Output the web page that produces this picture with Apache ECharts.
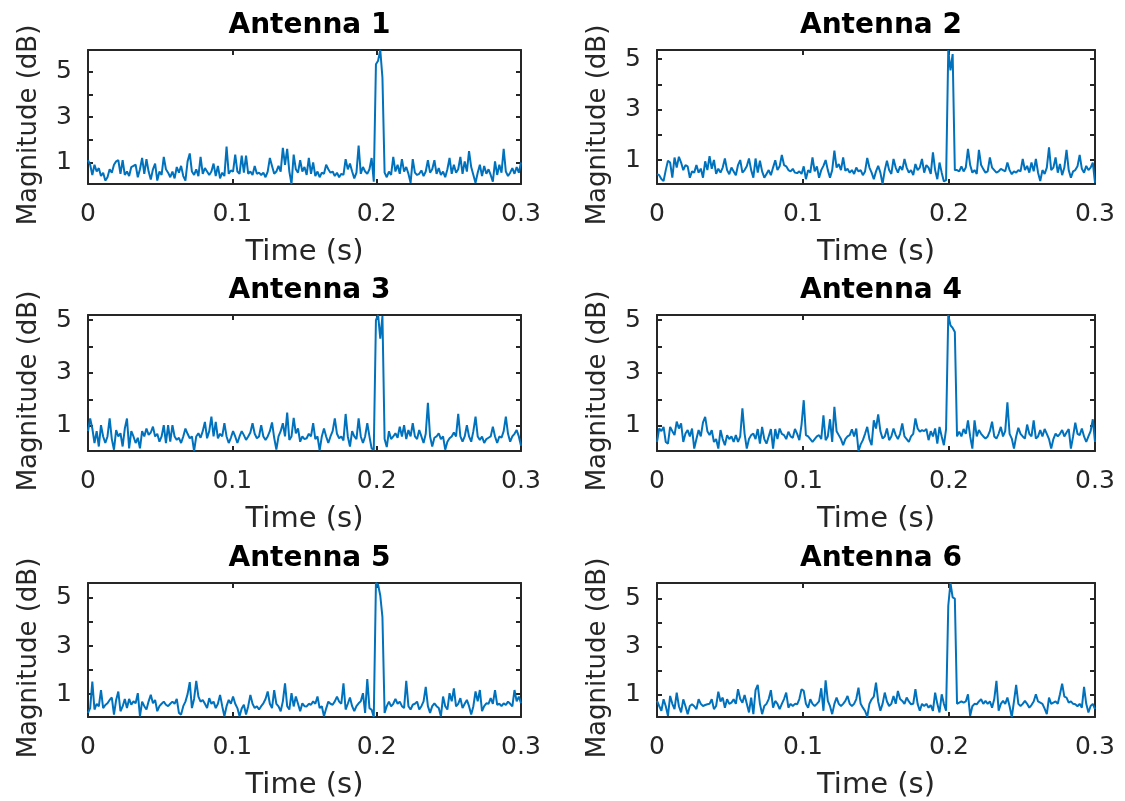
<!DOCTYPE html>
<html>
<head>
<meta charset="utf-8">
<script src="https://cdn.jsdelivr.net/npm/echarts@6/dist/echarts.min.js"></script>
<style>
html,body{margin:0;padding:0;background:#fff;}
#chart{width:1125px;height:801px;}
</style>
</head>
<body>
<div id="chart"></div>
<script>
// ---------- data ----------
const titles = ['Antenna 1', 'Antenna 2', 'Antenna 3', 'Antenna 4', 'Antenna 5', 'Antenna 6'];
const xTicks = [0, 0.1, 0.2, 0.3];
const yTicks = [1, 2, 3, 4, 5];
const yLabels = [1, 3, 5];
const sampleStep = 0.0015; // s between samples, 0 .. 0.3 s

const ant1 = [1.1,0.9,0.45,0.9,0.6,0.75,0.4,0.55,0.2,0.35,0.7,0.55,0.9,1.05,1.1,0.5,1.1,0.45,0.6,0.4,
0.8,0.85,0.9,0.35,0.7,1.2,0.5,1.15,0.6,0.25,0.7,0.95,0.2,0.6,0.45,1.25,0.7,0.55,0.35,0.6,
0.3,0.8,0.55,0.85,0.4,0.2,1.05,1.4,0.6,0.45,0.7,0.4,1.25,0.5,0.75,0.6,0.45,0.6,0.95,0.4,
0.85,0.3,0.55,0.4,1.7,0.5,0.65,0.6,1.35,0.6,0.5,1.3,0.55,1.3,0.5,0.6,0.45,0.85,0.5,0.55,
0.45,0.55,0.35,0.6,1.2,0.85,0.5,0.6,0.85,0.6,1.65,0.9,1.6,0.6,0.05,1.35,0.7,0.55,1.1,0.6,
0.8,0.45,1.2,0.5,1.0,0.4,0.6,0.35,0.55,0.5,0.9,0.7,0.55,0.6,0.4,0.55,0.35,0.5,0.45,1.15,
0.7,0.95,0.6,0.3,0.55,1.75,0.5,0.8,0.6,0.5,0.7,1.2,0.15,5.34,5.5,5.97,4.75,0.55,0.35,0.6,
0.45,1.25,0.6,0.9,0.5,1.15,0.6,0.8,0.5,0.1,1.15,0.55,0.45,0.5,0.65,0.4,0.6,1.1,0.55,0.7,
1.1,0.5,0.75,0.45,0.6,0.35,0.7,1.2,0.5,0.9,0.55,0.7,1.25,0.5,1.05,0.6,1.5,0.8,0.45,0.1,
0.55,0.9,0.4,0.85,0.5,0.7,0.45,0.15,1.05,0.45,0.9,0.55,1.6,0.6,0.4,0.55,0.75,0.5,0.8,0.55,1.0];

const ant2 = [0.44,0.4,0.25,0.17,0.6,0.97,0.9,0.3,1.1,0.7,1.13,0.9,0.6,0.8,0.75,0.3,0.55,0.5,0.8,0.5,
0.66,0.3,0.95,0.6,1.15,0.65,1.0,0.45,0.66,0.5,0.7,1.06,0.6,0.44,0.7,0.55,0.4,0.8,1.0,0.5,
0.6,0.75,1.06,0.6,0.3,1.06,0.5,0.97,0.55,0.3,0.45,0.6,0.4,0.7,0.99,0.6,0.75,1.2,0.8,0.75,
0.6,0.55,0.65,0.5,0.48,0.55,0.45,0.75,0.24,0.6,0.5,1.1,0.55,0.75,0.3,0.6,0.77,1.0,0.6,0.3,
0.6,1.37,0.7,0.84,0.6,1.1,0.57,0.65,0.5,0.6,0.45,0.7,0.55,0.6,0.4,0.55,1.08,0.7,0.5,0.24,
0.55,0.77,0.5,0.05,0.6,0.97,0.6,0.45,1.04,0.7,0.5,0.75,0.6,1.04,0.7,0.5,0.6,0.4,0.84,0.6,
0.7,1.04,0.5,0.8,0.7,0.45,1.3,0.6,0.24,0.9,0.5,0.15,0.2,5.36,4.55,5.2,0.6,0.6,0.55,0.75,
0.55,0.7,1.44,0.8,0.5,0.6,0.45,1.4,0.8,0.64,0.5,0.55,1.1,0.7,0.6,0.5,0.55,0.65,0.6,0.55,
0.9,0.6,0.44,0.55,0.5,0.6,0.55,1.04,0.6,0.77,0.5,0.9,0.55,1.04,0.5,0.17,0.6,0.45,0.7,1.5,
0.6,0.7,1.1,0.5,0.84,0.4,0.7,1.4,0.6,0.3,0.55,0.6,0.75,1.2,0.65,0.5,0.77,0.6,0.7,0.9,0.1];

const ant3 = [0.8,1.28,0.9,0.35,0.8,0.22,1.03,0.6,0.35,0.6,1.28,0.5,0.1,0.84,0.6,0.72,0.22,0.9,1.28,0.15,
0.8,0.6,0.35,0.55,0.15,0.8,0.6,0.9,0.66,0.75,0.97,0.6,0.7,0.4,0.6,1.03,0.35,1.03,0.4,1.03,
0.6,0.47,0.55,0.35,0.6,0.9,0.7,0.53,0.6,0.05,0.6,0.72,0.55,0.8,1.15,0.53,0.8,1.35,0.6,1.15,
0.53,0.7,0.6,1.1,0.6,0.35,0.55,0.8,0.6,0.35,0.6,0.8,0.65,0.47,0.6,0.75,1.1,0.7,0.53,0.6,
1.03,0.6,0.47,0.6,0.8,1.13,0.55,0.1,0.6,0.8,1.1,0.6,1.5,0.47,0.6,1.3,0.72,0.9,0.4,0.6,
0.5,0.53,0.7,0.6,1.1,0.5,0.6,0.07,0.6,0.9,0.6,0.35,0.6,0.8,1.28,0.7,0.53,0.6,0.45,1.45,
0.6,0.22,0.8,0.6,0.5,1.28,0.6,0.35,0.6,1.1,0.6,0.15,0.1,5.0,5.19,4.3,5.15,0.5,0.2,0.8,
0.5,0.6,0.72,0.55,0.97,0.6,1.03,0.5,0.84,0.6,1.1,0.6,0.5,0.84,0.6,0.35,0.7,1.87,0.6,0.22,
0.55,0.6,0.72,0.5,0.6,0.1,0.4,0.53,0.6,0.75,0.6,1.45,0.6,0.4,0.6,1.03,0.6,0.4,0.8,1.35,
0.6,0.47,0.6,0.35,0.5,0.55,0.6,0.97,0.6,0.35,0.6,0.55,0.8,1.35,0.7,0.4,0.6,0.7,0.84,0.6,0.25];

const ant4 = [0.39,0.9,0.8,0.96,0.39,0.33,0.96,0.8,0.65,1.16,0.9,1.09,0.39,0.71,0.84,0.6,0.9,0.14,0.5,0.84,
0.6,1.13,1.34,0.8,0.65,0.84,0.39,0.5,0.14,0.84,0.5,0.27,0.65,0.5,0.6,0.39,0.65,0.39,0.6,1.66,
0.7,0.14,0.5,0.65,0.71,0.5,0.88,0.33,0.96,0.5,0.33,0.6,0.88,0.14,0.88,0.5,0.9,0.7,0.65,0.5,
0.78,0.6,0.55,0.88,0.7,0.46,1.05,1.97,0.65,0.6,0.5,0.39,0.5,0.6,0.65,0.5,1.4,0.46,0.6,1.25,
0.39,1.72,0.8,0.65,0.5,0.27,0.5,0.6,0.65,0.87,0.6,0.9,0.05,0.3,0.46,0.7,0.96,0.5,0.27,1.21,
0.9,1.43,0.8,0.52,0.6,0.9,0.46,0.6,0.9,0.65,0.5,0.7,1.09,0.6,0.5,0.39,0.6,0.7,1.28,0.9,
0.78,0.84,0.8,0.88,0.46,0.8,0.6,0.9,0.33,0.96,0.6,0.27,0.88,5.19,4.8,4.7,4.55,0.6,0.78,0.6,
0.88,0.7,1.21,0.6,0.14,1.21,0.6,0.84,0.7,0.6,0.52,0.6,0.8,1.16,0.6,0.52,0.7,0.96,0.6,0.8,
1.89,0.7,0.52,0.14,0.6,0.93,0.7,0.6,0.52,1.05,0.7,0.6,1.21,0.52,0.6,0.84,0.6,0.88,0.7,0.5,
0.14,0.5,0.71,0.6,0.7,0.84,0.6,0.75,0.88,0.14,0.6,1.12,0.7,0.65,0.9,0.6,0.39,0.6,0.8,1.25,0.39];

const ant5 = [0.22,0.42,1.52,0.36,0.6,0.49,1.17,0.42,0.55,0.62,0.76,0.86,0.15,0.76,1.11,0.29,0.49,0.8,0.42,0.8,
0.56,0.7,0.62,1.04,0.08,0.69,0.5,0.36,0.7,0.97,0.62,0.76,0.29,0.5,0.6,0.69,0.56,0.5,0.6,0.69,
0.6,0.8,0.22,0.15,0.5,0.69,1.0,1.5,0.42,0.8,1.55,0.9,0.69,0.76,0.6,0.42,0.83,0.6,0.69,0.42,
0.6,0.97,0.5,0.08,0.5,0.76,0.6,0.9,0.6,0.42,0.08,0.4,0.56,0.15,0.5,0.97,0.6,0.42,0.5,0.36,
0.5,0.62,0.8,1.11,0.6,0.42,1.17,0.6,0.49,0.29,0.7,1.45,0.5,0.36,1.04,0.49,0.9,0.6,0.29,0.62,
0.5,0.49,0.6,0.56,0.7,0.6,0.9,0.42,0.5,0.08,0.4,0.69,0.6,0.56,0.7,0.9,0.69,0.6,1.45,0.36,
0.6,0.86,0.5,0.29,0.5,0.62,0.7,1.04,0.22,1.63,0.42,0.35,0.05,5.62,5.55,5.1,4.2,0.22,0.5,0.69,
0.49,0.6,0.8,0.6,0.69,0.5,0.42,1.55,0.5,0.36,0.56,0.6,0.69,0.36,0.5,0.7,1.3,0.5,0.22,0.5,
0.62,0.5,0.42,0.08,0.9,0.5,0.36,1.04,0.7,1.24,0.49,0.6,0.83,0.42,0.6,0.76,0.5,0.15,0.5,1.11,
0.7,1.17,0.29,0.5,0.62,0.6,0.83,0.6,1.17,0.56,0.6,0.5,0.62,0.55,0.69,0.6,0.49,1.17,0.7,0.9,0.62];

const ant6 = [0.72,0.51,0.31,0.79,0.5,0.1,0.93,0.6,0.38,1.07,0.5,0.24,0.79,0.5,0.17,0.51,0.58,0.5,0.38,0.79,
0.6,0.51,0.55,0.58,0.6,0.79,0.38,0.51,1.11,0.7,0.86,0.44,0.79,0.6,0.65,0.79,0.6,1.21,0.8,0.65,
0.97,0.6,0.24,0.86,0.17,1.17,1.39,0.6,0.17,0.51,0.6,0.8,1.17,0.44,0.72,0.6,0.38,0.6,0.8,1.07,
0.44,0.6,0.51,0.6,0.58,0.8,1.21,1.14,0.6,0.44,0.79,0.6,0.51,0.6,0.7,1.25,0.31,1.58,0.72,0.5,
0.17,0.6,0.86,0.6,0.51,0.6,0.72,0.93,0.6,0.51,0.6,0.8,1.28,0.6,0.44,0.3,0.06,0.6,0.79,0.9,
1.49,0.7,0.31,0.6,1.07,0.7,0.51,0.6,0.93,0.6,1.14,0.8,0.72,0.6,0.86,0.7,0.58,0.6,1.21,0.6,
0.31,0.6,0.51,0.6,0.44,0.55,0.31,1.07,0.6,0.24,1.0,0.6,0.31,4.7,5.65,5.05,5.0,0.6,0.65,0.7,
0.65,0.7,1.0,0.1,0.5,0.6,0.58,0.7,0.79,0.6,0.72,0.6,0.7,0.44,0.8,1.56,0.31,0.6,0.72,0.6,
0.86,0.5,0.05,0.7,1.39,0.6,0.51,0.6,0.72,0.6,0.44,0.55,0.7,1.0,0.7,0.65,0.6,0.4,0.17,0.86,
0.6,0.65,0.7,0.6,1.0,1.44,0.9,0.86,0.65,0.7,0.6,0.58,0.5,0.6,0.44,1.31,0.6,0.24,0.51,0.6,0.38];

const series_values = [ant1, ant2, ant3, ant4, ant5, ant6];

// ---------- layout ----------
const colLeft = [88, 657];
const colWidth = [433, 438];
const rowTop = [50, 315, 583];
const rowHeight = [134, 136, 135];

const axisColor = '#262626';
const lineColor = '#0072BD';
const FONT = 'DejaVu Sans';

const grids = [], xAxes = [], yAxes = [], series = [], titleList = [];

series_values.forEach((vals, k) => {
  const row = Math.floor(k / 2), col = k % 2;
  const left = colLeft[col], width = colWidth[col];
  const top = rowTop[row], height = rowHeight[row];
  grids.push({ left: left, top: top, width: width, height: height, containLabel: false });

  const yMin = Math.min.apply(null, vals);
  const yMax = Math.max.apply(null, vals);

  const tickCommon = { show: true, inside: true, length: 5, lineStyle: { color: axisColor, width: 2 } };
  const lineCommon = { show: true, onZero: false, lineStyle: { color: axisColor, width: 2 } };

  xAxes.push({
    type: 'value', gridIndex: k, position: 'bottom', min: 0, max: 0.3,
    axisLine: lineCommon,
    axisTick: Object.assign({ customValues: xTicks }, tickCommon),
    axisLabel: { customValues: xTicks, color: axisColor, fontFamily: FONT, fontSize: 25, margin: 18,
      formatter: v => String(+v.toFixed(1)) },
    splitLine: { show: false },
    name: 'Time (s)', nameLocation: 'middle', nameGap: 54,
    nameTextStyle: { color: axisColor, fontFamily: FONT, fontSize: 29 }
  });
  xAxes.push({
    type: 'value', gridIndex: k, position: 'top', min: 0, max: 0.3,
    axisLine: lineCommon,
    axisTick: Object.assign({ customValues: xTicks }, tickCommon),
    axisLabel: { show: false }, splitLine: { show: false }
  });
  yAxes.push({
    type: 'value', gridIndex: k, position: 'left', min: yMin, max: yMax,
    axisLine: lineCommon,
    axisTick: Object.assign({ customValues: yTicks }, tickCommon),
    axisLabel: { customValues: yLabels, color: axisColor, fontFamily: FONT, fontSize: 25, margin: 16 },
    splitLine: { show: false },
    name: 'Magnitude (dB)', nameLocation: 'middle', nameGap: 46, nameRotate: 90,
    nameTextStyle: { color: axisColor, fontFamily: FONT, fontSize: 26, padding: [0, 16, 0, 0] }
  });
  yAxes.push({
    type: 'value', gridIndex: k, position: 'right', min: yMin, max: yMax,
    axisLine: lineCommon,
    axisTick: Object.assign({ customValues: yTicks }, tickCommon),
    axisLabel: { show: false }, splitLine: { show: false }
  });

  series.push({
    type: 'line', xAxisIndex: 2 * k, yAxisIndex: 2 * k,
    data: vals.map((v, i) => [+(i * sampleStep).toFixed(4), v]),
    showSymbol: false, symbol: 'none', animation: false,
    lineStyle: { color: lineColor, width: 2 }, clip: true
  });

  titleList.push({
    text: titles[k], left: left + width / 2, top: top - 43, textAlign: 'center',
    textStyle: { color: '#000', fontFamily: FONT, fontWeight: 'bold', fontSize: 28 }
  });
});

const chart = echarts.init(document.getElementById('chart'), null, { renderer: 'canvas' });
chart.setOption({
  animation: false,
  backgroundColor: '#fff',
  title: titleList,
  grid: grids,
  xAxis: xAxes,
  yAxis: yAxes,
  series: series
});
</script>
</body>
</html>
